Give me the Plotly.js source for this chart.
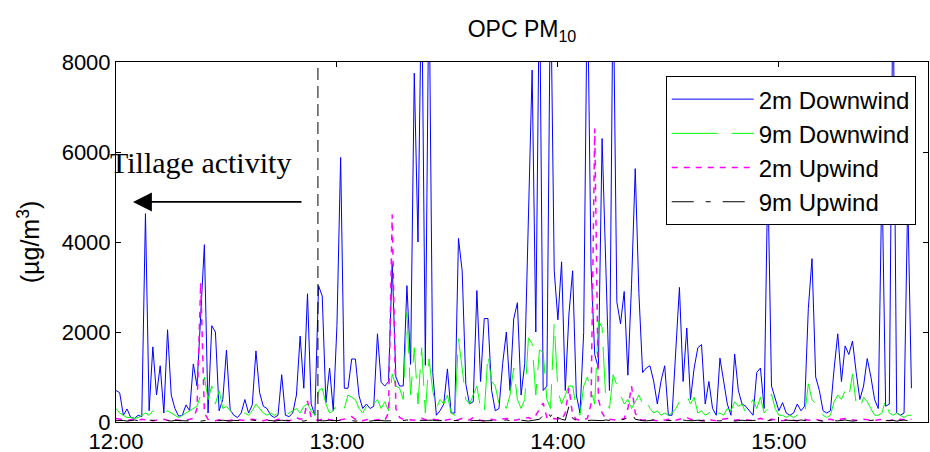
<!DOCTYPE html>
<html><head><meta charset="utf-8">
<script src="https://cdn.plot.ly/plotly-3.0.1.min.js"></script>
<style>html,body{margin:0;padding:0;background:#fff}#chart{width:930px;height:452px}</style>
</head><body><div id="chart"></div>
<script>
// 1-minute samples starting at 12:00
const startDay = '2000-01-01';
const startHour = 12;

const seriesNames = ['2m Downwind', '9m Downwind', '2m Upwind', '9m Upwind'];

const downwind2m = [
700,650,150,290,100,80,150,120,4630,250,
1670,600,1250,200,2050,600,300,130,150,380,
250,1290,800,2320,3940,200,2140,2000,250,500,
1600,270,150,100,200,500,200,380,1580,650,
350,300,150,100,150,1050,150,120,200,600,
1910,750,2850,400,150,3030,2800,430,1200,250,
2140,5880,750,750,1400,1400,580,300,400,300,
350,1960,880,800,900,3520,1000,800,800,3030,
1280,7750,4000,10000,1260,10000,1100,150,250,400,
1180,200,200,4080,3360,840,400,450,2920,900,
2300,2300,700,250,300,1300,2000,700,2290,2650,
600,1300,4700,7820,2000,10000,700,800,10000,3360,
2270,3560,700,2400,3360,600,200,1990,10000,3450,
1500,1200,6300,3600,700,10000,2670,2180,2900,1040,
3060,5630,2850,1100,1200,1250,910,400,910,1250,
150,150,1650,2990,900,2090,500,1200,1650,1720,
400,900,300,150,1420,900,400,150,1510,700,
400,350,250,150,1100,1200,300,5500,800,500,
250,430,200,150,200,400,250,350,2520,3630,
1000,700,250,200,250,1180,1960,900,1690,1500,
1800,1100,500,800,1410,1000,500,300,5500,350,
400,10000,200,150,200,5000,750
];

const downwind9m = [
300,200,150,100,100,80,100,150,200,150,
250,200,150,200,250,200,150,100,150,200,
250,300,350,600,1000,500,800,400,700,300,
350,250,200,150,150,200,150,250,400,300,
200,150,200,150,200,250,150,200,250,300,
200,350,400,250,150,700,750,400,200,250,
400,430,300,600,550,500,300,200,350,250,
400,500,300,450,250,1070,800,750,500,2430,
600,1650,400,1650,200,1400,700,300,500,400,
600,200,150,1850,1200,500,400,600,800,300,
200,1500,900,800,400,500,300,600,1200,500,
300,500,1870,1740,600,1600,1550,500,300,2200,
700,400,600,800,800,300,150,800,1000,700,
400,2250,2100,500,300,1050,800,600,400,500,
300,450,600,400,500,300,200,250,150,200,
150,200,300,450,500,600,400,550,200,250,
150,200,300,150,200,150,300,250,450,350,
400,200,350,500,300,550,200,300,620,300,
150,150,100,150,100,150,200,150,850,500,
400,300,150,100,150,450,600,500,700,550,
1070,400,300,550,450,300,150,150,200,500,
200,150,200,150,100,150,150
];

const upwind2m = [
80,60,40,30,50,40,30,60,50,40,
30,40,50,60,40,30,50,40,30,40,
60,80,300,3100,200,60,40,30,50,40,
30,40,60,50,40,30,40,60,50,40,
30,50,40,30,60,50,40,30,50,100,
60,80,470,100,50,40,60,80,50,40,
30,50,60,80,120,60,40,30,50,60,
40,50,60,40,200,4610,300,100,60,40,
50,40,60,80,50,40,60,50,40,30,
50,60,40,50,80,60,40,100,60,40,
30,50,60,40,50,60,80,60,40,50,
60,80,100,60,150,300,420,100,60,80,
60,50,200,760,150,60,40,50,80,400,
6520,500,200,80,60,50,40,60,80,300,
800,200,60,40,50,60,40,30,50,40,
60,50,40,60,80,100,60,50,40,30,
50,60,40,30,50,60,80,60,40,50,
60,50,40,30,60,80,50,40,60,50,
40,30,50,60,40,30,50,60,40,50,
60,40,30,50,60,40,50,60,80,60,
50,40,30,60,50,40,30,50,60,40,
30,50,40,60,50,40,60
];

const upwind9m = [
30,40,35,20,30,45,30,25,30,40,
35,20,30,45,30,20,35,40,30,25,
30,40,30,20,35,40,30,25,30,40,
30,20,35,40,30,25,30,45,30,20,
30,40,35,20,30,40,30,25,30,45,
30,20,40,60,45,30,25,30,40,30,
35,40,50,40,30,20,30,45,30,20,
30,40,35,25,30,40,30,20,30,45,
30,20,35,40,30,50,40,30,25,30,
40,35,20,30,45,30,20,35,40,30,
25,30,40,35,20,30,45,30,25,30,
40,30,20,35,40,60,150,250,120,250,
100,60,40,350,80,40,30,25,30,40,
35,20,30,45,30,25,30,40,60,100,
200,60,40,30,25,30,45,30,20,30,
40,35,20,30,45,30,25,30,40,30,
20,35,40,30,25,30,45,30,20,30,
40,30,25,35,40,30,20,30,45,30,
25,30,40,35,20,30,45,30,25,30,
40,30,20,35,40,30,25,30,45,30,
20,30,40,35,25,30,45,30,20,30,
40,35,20,30,45,30,25
];

const yTickVals = [0, 2000, 4000, 6000, 8000];
const xRange = ['2000-01-01 12:00:00', '2000-01-01 15:40:30'];
const tillageTime = '2000-01-01 12:54:50';
const arrowHeadTime = '2000-01-01 12:04:37';
const labelTime = '2000-01-01 12:22:50';

function pad(n) { return (n < 10 ? '0' : '') + n; }
function minuteStamp(i) {
  const h = startHour + Math.floor(i / 60);
  const m = i % 60;
  return startDay + ' ' + pad(h) + ':' + pad(m) + ':00';
}
const times = downwind2m.map((_, i) => minuteStamp(i));

const styles = [
  {color: '#0000ff', dash: 'solid', width: 1},
  {color: '#00ff00', dash: '46px,14px', width: 1},
  {color: '#ff00ff', dash: '6px,6px', width: 1.5},
  {color: '#000000', dash: '22px,12px,5px,12px', width: 1}
];
const allSeries = [downwind2m, downwind9m, upwind2m, upwind9m];

const traces = allSeries.map((vals, k) => ({
  type: 'scatter', mode: 'lines',
  x: times, y: vals,
  name: seriesNames[k],
  legendgroup: 'g' + k,
  line: {color: styles[k].color, width: styles[k].width, dash: styles[k].dash}
}));

const FONT = 'Liberation Sans, Arial, Helvetica, sans-serif';

const layout = {
  width: 930, height: 452,
  margin: {l: 116, r: 2, t: 62, b: 30},
  paper_bgcolor: '#ffffff', plot_bgcolor: '#ffffff',
  font: {family: FONT, size: 22, color: '#000'},
  showlegend: true,
  title: {text: 'OPC PM<sub>10</sub>', x: 0.5, xref: 'paper', xanchor: 'center',
          y: 0.935, yanchor: 'middle', font: {family: FONT, size: 23, color: '#000'}},
  xaxis: {
    type: 'date', range: xRange, tickformat: '%H:%M', dtick: 3600000, tick0: '2000-01-01 12:00:00',
    ticks: 'inside', ticklen: 5, tickcolor: '#000', showline: true, mirror: 'allticks',
    linecolor: '#000', linewidth: 1, showgrid: false, zeroline: false,
    tickfont: {family: FONT, size: 22, color: '#000'}
  },
  yaxis: {
    range: [0, 8000], tickvals: yTickVals, ticktext: yTickVals.map(String),
    ticks: 'inside', ticklen: 5, tickcolor: '#000', showline: true, mirror: 'allticks',
    linecolor: '#000', linewidth: 1, showgrid: false, zeroline: false,
    tickfont: {family: FONT, size: 22, color: '#000'},
    title: {text: '(\u00b5g/m<sup>3</sup>)', standoff: 14, font: {family: FONT, size: 25, color: '#000'}}
  },
  legend: {
    x: 0.677, y: 0.961, xanchor: 'left', yanchor: 'top',
    bgcolor: '#ffffff', bordercolor: '#000', borderwidth: 1,
    font: {family: FONT, size: 24, color: '#000'},
    tracegroupgap: 7, itemwidth: 82, traceorder: 'normal'
  },
  shapes: [{
    type: 'line', xref: 'x', yref: 'paper', x0: tillageTime, x1: tillageTime, y0: 0, y1: 1,
    line: {color: '#000', width: 1, dash: '12px,6px'}
  }],
  annotations: [
    {x: labelTime, y: 5760, xref: 'x', yref: 'y', text: 'Tillage activity', showarrow: false,
     font: {family: 'Liberation Serif, Times New Roman, serif', size: 30, color: '#000'}},
    {x: arrowHeadTime, y: 4890, xref: 'x', yref: 'y', text: '', showarrow: true,
     ax: 170, ay: 0, axref: 'pixel', ayref: 'pixel', arrowhead: 2, arrowsize: 2.1, arrowwidth: 1.8, arrowcolor: '#000'}
  ]
};

Plotly.newPlot('chart', traces, layout, {displayModeBar: false, staticPlot: true});
</script>
</body></html>
